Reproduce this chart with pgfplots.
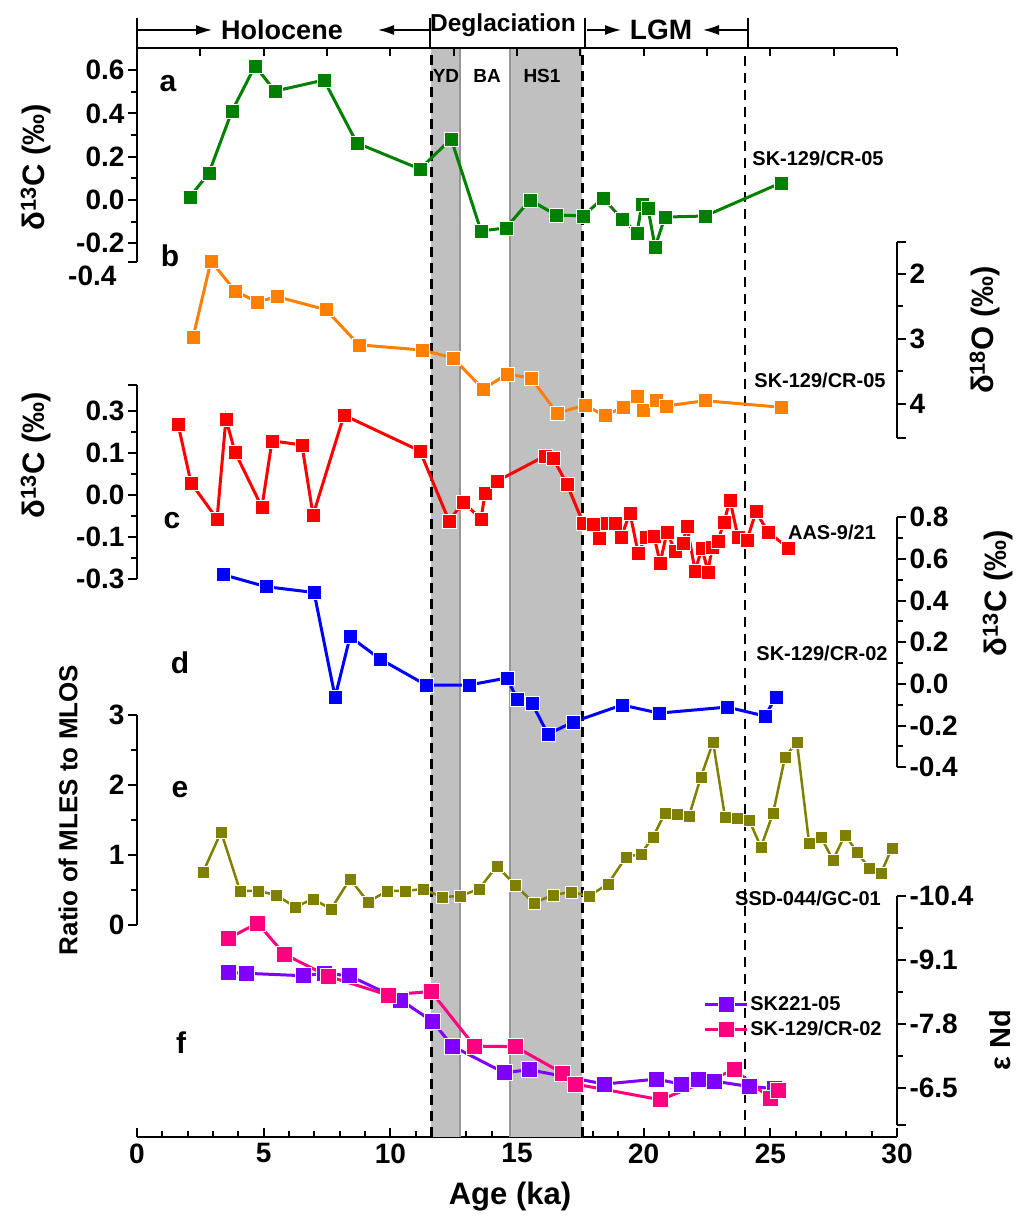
\documentclass[border=0pt]{standalone}
\usepackage{fontspec}
\setmainfont{Liberation Sans}
\usepackage{pgfplots}
\pgfplotsset{compat=1.18}
\usetikzlibrary{arrows.meta}
\definecolor{cgreen}{RGB}{0,128,0}
\definecolor{corange}{RGB}{255,128,0}
\definecolor{cred}{RGB}{255,0,0}
\definecolor{cblue}{RGB}{0,0,255}
\definecolor{colive}{RGB}{128,128,0}
\definecolor{cpurple}{RGB}{128,0,255}
\definecolor{cpink}{RGB}{255,0,128}
\definecolor{bandgray}{RGB}{192,192,192}
\definecolor{bandedge}{RGB}{150,150,150}
\newcommand{\fs}[1]{\fontsize{#1}{#1}\selectfont\bfseries}
\pgfplotsset{
  panel/.style={
    scale only axis, width=760pt, xmin=0, xmax=30,
    axis x line=none, clip=false,
    /pgf/number format/assume math mode=true,
    tick label style={font=\fs{28}},
    yticklabel style={/pgf/number format/fixed, /pgf/number format/fixed zerofill, /pgf/number format/precision=1},
    tick align=outside,
    major tick length=9pt, minor tick length=6pt,
    tick style={black, line width=2pt},
    axis line style={line width=2.2pt},
  },
  ser/.style={color=#1, line width=3pt, mark=square*, mark size=7pt,
    mark options={fill=#1, draw=white, line width=0.6pt, solid}},
}
\begin{document}
\begin{tikzpicture}
\path[use as bounding box] (0pt,0pt) rectangle (1016pt,1225pt);
% base axis: bands, dashed lines, bottom axis
\begin{axis}[scale only axis, width=760pt, height=1089pt, at={(137pt,88pt)}, anchor=south west,
  xmin=0, xmax=30, ymin=0, ymax=1, axis y line=none, axis x line*=bottom, clip=false,
  xtick={0,5,...,30}, minor x tick num=4, tick align=inside,
  major tick length=9pt, minor tick length=6pt,
  tick style={black, line width=2pt}, axis line style={line width=2.5pt},
  /pgf/number format/assume math mode=true,
  xticklabel style={font=\fs{28}, yshift=-3pt}]
\addplot[fill=bandgray, draw=none] coordinates {(11.62,1) (12.75,1)} \closedcycle;
\addplot[fill=bandgray, draw=none] coordinates {(14.72,1) (17.57,1)} \closedcycle;
\addplot[bandedge, line width=1.5pt] coordinates {(12.75,0) (12.75,1)};
\addplot[bandedge, line width=1.5pt] coordinates {(14.72,0) (14.72,1)};
\addplot[black, line width=3pt, dash pattern=on 10pt off 6pt] coordinates {(11.62,0) (11.62,1)};
\addplot[black, line width=3pt, dash pattern=on 10pt off 6pt] coordinates {(17.57,0) (17.57,1)};
\addplot[black, line width=2.6pt, dash pattern=on 10pt off 7pt] coordinates {(24.0,0) (24.0,1)};
\end{axis}
% top axis
\begin{axis}[scale only axis, width=760pt, height=1089pt, at={(137pt,88pt)}, anchor=south west,
  xmin=0, xmax=30, ymin=0, ymax=1, axis y line=none, axis x line*=top,
  xtick={0,2.5,...,30}, xticklabels={}, tick align=inside, major tick length=8pt,
  tick style={black, line width=2pt}, axis line style={line width=2.5pt}]
\end{axis}
% panel a
\begin{axis}[panel, at={(137pt,963pt)}, anchor=south west, height=214pt,
  ymin=-0.2864, ymax=0.7021, axis y line*=left,
  ytick={-0.2,0,0.2,0.4,0.6}, minor y tick num=1,
  extra y ticks={-0.2864}, extra y tick labels={}]
\addplot[ser=cgreen] coordinates {
(2.09,0.014) (2.84,0.125) (3.75,0.411) (4.66,0.619) (5.45,0.503) (7.38,0.554)
(8.68,0.263) (11.17,0.143) (12.40,0.282) (13.58,-0.143) (14.57,-0.129) (15.51,0.000)
(16.54,-0.069) (17.61,-0.074) (18.40,0.009) (19.14,-0.088) (19.74,-0.152) (19.93,-0.018)
(20.17,-0.037) (20.45,-0.217) (20.84,-0.079) (22.42,-0.074) (25.42,0.079)};
\end{axis}
% panel b
\begin{axis}[panel, at={(137pt,787pt)}, anchor=south west, height=196pt,
  y dir=reverse, ymin=1.5077, ymax=4.523, axis y line*=right,
  ytick={2,3,4}, minor y tick num=1,
  yticklabel style={/pgf/number format/precision=0},
  extra y ticks={1.5077,4.523}, extra y tick labels={}]
\addplot[ser=corange] coordinates {
(2.21,2.98) (2.92,1.80) (3.87,2.26) (4.74,2.43) (5.53,2.35) (7.46,2.55) (8.76,3.09)
(11.25,3.17) (12.47,3.29) (13.66,3.77) (14.61,3.54) (15.55,3.60) (16.58,4.14) (17.68,4.02)
(18.47,4.18) (19.18,4.05) (19.74,3.88) (19.97,4.09) (20.49,3.94) (20.88,4.03) (22.42,3.95)
(25.42,4.05)};
\end{axis}
% panel c
\begin{axis}[panel, at={(137pt,646pt)}, anchor=south west, height=194pt,
  ymin=-0.2, ymax=0.2619, axis y line*=left,
  ytick={-0.2,-0.1,0,0.1,0.2}, yticklabels={-0.3,-0.1,0.0,0.1,0.3}, minor y tick num=1,
  extra y ticks={0.2619}, extra y tick labels={}]
\addplot[ser=cred] coordinates {
(1.62,0.169) (2.13,0.029) (3.16,-0.057) (3.51,0.181) (3.87,0.102) (4.93,-0.029)
(5.33,0.129) (6.51,0.119) (6.95,-0.048) (8.17,0.190) (11.17,0.105) (12.32,-0.062)
(12.87,-0.017) (13.58,-0.057) (13.74,0.005) (14.21,0.033) (16.11,0.093) (16.42,0.088)
(16.97,0.026) (17.61,-0.067) (18.00,-0.069) (18.24,-0.102) (18.55,-0.067) (18.87,-0.067)
(19.11,-0.100) (19.46,-0.043) (19.78,-0.138) (20.09,-0.100) (20.41,-0.098) (20.65,-0.162)
(20.92,-0.088) (21.24,-0.133) (21.55,-0.114) (21.71,-0.074) (22.03,-0.181) (22.30,-0.126)
(22.54,-0.183) (22.70,-0.124) (22.93,-0.110) (23.17,-0.064) (23.41,-0.012) (23.72,-0.100)
(24.08,-0.107) (24.43,-0.040) (24.91,-0.088) (25.70,-0.126)};
\end{axis}
% panel d
\begin{axis}[panel, at={(137pt,457.7pt)}, anchor=south west, height=250pt,
  ymin=-0.4, ymax=0.8, axis y line*=right,
  ytick={-0.4,-0.2,0,0.2,0.4,0.6,0.8}, minor y tick num=1]
\addplot[ser=cblue] coordinates {
(3.39,0.525) (5.09,0.467) (6.99,0.439) (7.82,-0.063) (8.41,0.227) (9.59,0.120)
(11.41,-0.005) (13.11,-0.005) (14.61,0.029) (15.00,-0.072) (15.59,-0.092) (16.22,-0.241)
(17.21,-0.183) (19.14,-0.101) (20.61,-0.140) (23.29,-0.111) (24.79,-0.154) (25.22,-0.063)};
\end{axis}
% panel e
\begin{axis}[panel, at={(137pt,300pt)}, anchor=south west, height=210pt,
  ymin=0, ymax=3, axis y line*=left,
  ytick={0,1,2,3}, minor y tick num=1,
  yticklabel style={/pgf/number format/precision=0}]
\addplot[ser=colive, line width=2.5pt, mark size=6pt] coordinates {
(2.61,0.757) (3.32,1.329) (4.07,0.486) (4.78,0.486) (5.49,0.429) (6.24,0.257)
(6.95,0.371) (7.66,0.229) (8.41,0.657) (9.12,0.329) (9.87,0.486) (10.58,0.486)
(11.29,0.514) (12.04,0.400) (12.75,0.414) (13.50,0.514) (14.21,0.843) (14.92,0.571)
(15.67,0.314) (16.42,0.429) (17.13,0.471) (17.84,0.414) (18.59,0.586) (19.30,0.971)
(19.89,1.014) (20.37,1.257) (20.84,1.600) (21.32,1.586) (21.79,1.557) (22.26,2.114)
(22.74,2.614) (23.21,1.543) (23.68,1.529) (24.16,1.500) (24.63,1.114) (25.11,1.600)
(25.58,2.400) (26.05,2.614) (26.53,1.171) (27.00,1.257) (27.47,0.929) (27.95,1.286)
(28.42,1.043) (28.90,0.814) (29.37,0.743) (29.80,1.100)};
\end{axis}
% panel f
\begin{axis}[panel, at={(137pt,100pt)}, anchor=south west, height=229pt,
  y dir=reverse, ymin=-10.4, ymax=-5.748, axis y line*=right,
  ytick={-10.4,-9.1,-7.8,-6.5}, minor y tick num=1,
  extra y ticks={-5.748}, extra y tick labels={},
  legend style={at={(axis description cs:0.745,0.57)}, anchor=north west, draw=none, fill=none,
    font=\fs{20}, row sep=5pt, inner sep=0pt},
  legend cell align=left,
  legend image code/.code={\draw[#1, mark repeat=2, mark phase=2] plot coordinates {(0pt,0pt) (21pt,0pt) (42pt,0pt)};}]
\addplot[ser=cpurple, mark size=8pt] coordinates {
(3.61,-8.85) (4.31,-8.83) (6.57,-8.78) (7.38,-8.83) (8.38,-8.78) (10.40,-8.29)
(11.67,-7.85) (12.45,-7.35) (14.49,-6.81) (15.48,-6.87) (18.45,-6.58) (20.51,-6.68)
(21.47,-6.58) (22.14,-6.68) (22.78,-6.64) (24.15,-6.53) (25.14,-6.49)};
\addlegendentry{SK221-05}
\addplot[ser=cpink, mark size=8pt] coordinates {
(3.61,-9.54) (4.76,-9.85) (5.81,-9.22) (7.54,-8.77) (9.90,-8.39) (11.61,-8.46)
(13.32,-7.35) (14.93,-7.34) (16.80,-6.80) (17.29,-6.58) (20.67,-6.26) (23.59,-6.87)
(25.00,-6.29) (25.30,-6.46)};
\addlegendentry{SK-129/CR-02}
\end{axis}
% header
\draw[line width=1.4pt] (137pt,1207pt) -- (137pt,1177pt);
\draw[line width=1.4pt] (430pt,1207pt) -- (430pt,1177pt);
\draw[line width=1.4pt] (585pt,1207pt) -- (585pt,1177pt);
\draw[line width=1.4pt] (748pt,1207pt) -- (748pt,1177pt);
\draw[line width=1.4pt, -{Latex[length=16pt,width=10pt]}] (138pt,1195pt) -- (212pt,1195pt);
\draw[line width=1.4pt, -{Latex[length=16pt,width=10pt]}] (429pt,1195pt) -- (378pt,1195pt);
\draw[line width=1.4pt, -{Latex[length=16pt,width=10pt]}] (587pt,1195pt) -- (621pt,1195pt);
\draw[line width=1.4pt, -{Latex[length=16pt,width=10pt]}] (747pt,1195pt) -- (703pt,1195pt);
\node[font=\fs{27}] at (282pt,1195pt) {Holocene};
\node[font=\fs{24.5}] at (503pt,1200pt) {Deglaciation};
\node[font=\fs{28}] at (661pt,1195pt) {LGM};
% period labels
\node[font=\fs{19}] at (446pt,1149pt) {YD};
\node[font=\fs{19}] at (487pt,1149pt) {BA};
\node[font=\fs{19}] at (542pt,1149pt) {HS1};
% panel letters
\node[font=\fs{30}] at (168pt,1141pt) {a};
\node[font=\fs{30}] at (170pt,969pt) {b};
\node[font=\fs{30}] at (172pt,704pt) {c};
\node[font=\fs{30}] at (180pt,562pt) {d};
\node[font=\fs{30}] at (180pt,435pt) {e};
\node[font=\fs{30}] at (181pt,182pt) {f};
% core labels
\node[font=\fs{20}] at (818pt,1067pt) {SK-129/CR-05};
\node[font=\fs{20}] at (820pt,845pt) {SK-129/CR-05};
\node[font=\fs{20}] at (832pt,693pt) {AAS-9/21};
\node[font=\fs{20}] at (822pt,572pt) {SK-129/CR-02};
\node[font=\fs{20}] at (808pt,327pt) {SSD-044/GC-01};
% extra tick label of panel a
\node[font=\fs{28}, anchor=east] at (120pt,949pt) {-0.4};
% axis titles
\node[font=\fs{31}, rotate=90] at (36pt,1058pt) {δ\textsuperscript{13}C (‰)};
\node[font=\fs{31}, rotate=90] at (36pt,770pt) {δ\textsuperscript{13}C (‰)};
\node[font=\fs{26}, rotate=90] at (68pt,415pt) {Ratio of MLES to MLOS};
\node[font=\fs{31}, rotate=90] at (985pt,895pt) {δ\textsuperscript{18}O (‰)};
\node[font=\fs{31}, rotate=90] at (998pt,632pt) {δ\textsuperscript{13}C (‰)};
\node[font=\fs{29}, rotate=90] at (1000pt,185pt) {ε Nd};
\node[font=\fs{31}] at (510pt,28pt) {Age (ka)};
\end{tikzpicture}
\end{document}
